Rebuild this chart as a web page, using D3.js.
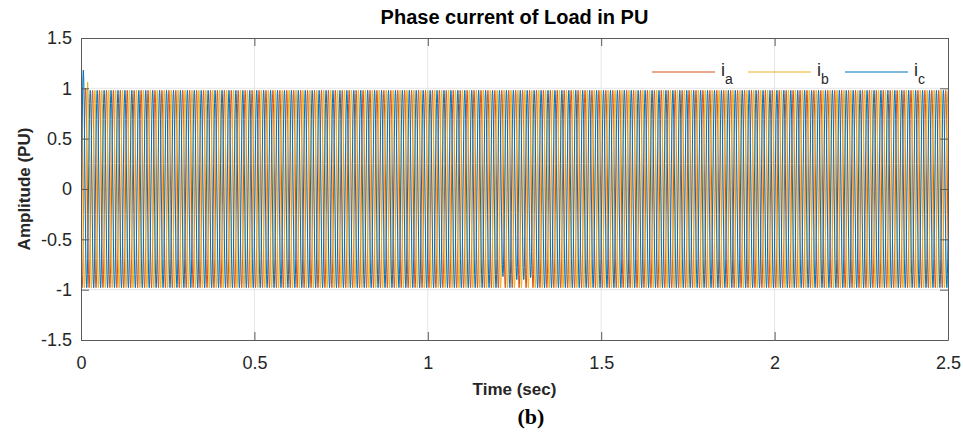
<!DOCTYPE html>
<html>
<head>
<meta charset="utf-8">
<script src="https://cdn.jsdelivr.net/npm/d3@7"></script>
<style>
  body { margin: 0; background: #fff; }
  text { font-family: Arial, "Liberation Sans", Helvetica, sans-serif; }
</style>
</head>
<body>
<div id="chart"></div>
<script>
var svgWidth = 963;
var svgHeight = 432;
var margin = { top: 38, right: 15, bottom: 92, left: 81 };
var width = svgWidth - margin.left - margin.right;
var height = svgHeight - margin.top - margin.bottom;

// tick labels
var timeTicks = [0, 0.5, 1, 1.5, 2, 2.5];
var ampTicks = [-1.5, -1, -0.5, 0, 0.5, 1, 1.5];

// series
var seriesNames = ["a", "b", "c"];
var seriesColors = ["#D95319", "#EDB120", "#0072BD"];

// one 20 ms cycle of the steady waveform, 24 samples, normalised to its peak
var cycleShape = [1, 0.966, 0.866, 0.707, 0.5, 0.259, 0, -0.259, -0.5, -0.707, -0.866, -0.966,
                  -1, -0.966, -0.866, -0.707, -0.5, -0.259, 0, 0.259, 0.5, 0.707, 0.866, 0.966];
var cycleLength = 0.02;
var cycleCount = 125;
var phaseShift = [8, 0, 16];       // samples into cycleShape at t = 0 (ia, ib, ic)
var steadyPeak = 0.98;
var firstCyclePeak = [1.0, 1.1, 1.18]; // start-up overshoot (positive half)
// shallower troughs of ic around 1.2 s
var dipCycles = [60, 62, 63, 64];
var dipTrough = [0.87, 0.9, 0.9, 0.88];

function peakFor(k, c, v) {
  if (c === 0 && v > 0) return firstCyclePeak[k];
  var d = dipCycles.indexOf(c);
  if (k === 2 && d >= 0 && v < 0) return dipTrough[d];
  return steadyPeak;
}

var n = cycleShape.length;
var series = seriesNames.map(function (name, k) {
  var pts = [];
  for (var i = 0; i <= cycleCount * n; i++) {
    var c = Math.floor(i / n);
    var s = cycleShape[(i + phaseShift[k]) % n];
    pts.push({ t: i * cycleLength / n, v: s * peakFor(k, c, s) });
  }
  return { name: name, color: seriesColors[k], values: pts };
});

var svg = d3.select("#chart")
  .append("svg")
  .attr("width", svgWidth)
  .attr("height", svgHeight);

var chartGroup = svg.append("g")
  .attr("transform", `translate(${margin.left}, ${margin.top})`);

var x = d3.scaleLinear().domain([0, 2.5]).range([0, width]);
var y = d3.scaleLinear().domain([-1.5, 1.5]).range([height, 0]);

// grid
chartGroup.append("g").selectAll("line")
  .data(timeTicks.slice(1, -1))
  .enter().append("line")
  .attr("x1", d => x(d)).attr("x2", d => x(d))
  .attr("y1", 0).attr("y2", height)
  .attr("stroke", "#e6e6e6");
chartGroup.append("g").selectAll("line")
  .data(ampTicks.slice(1, -1))
  .enter().append("line")
  .attr("y1", d => y(d)).attr("y2", d => y(d))
  .attr("x1", 0).attr("x2", width)
  .attr("stroke", "#e6e6e6");

chartGroup.append("clipPath").attr("id", "clip")
  .append("rect").attr("width", width).attr("height", height);

var line = d3.line().x(d => x(d.t)).y(d => y(d.v));

chartGroup.append("g").attr("clip-path", "url(#clip)")
  .selectAll("path")
  .data(series)
  .enter().append("path")
  .attr("d", d => line(d.values))
  .attr("fill", "none")
  .attr("stroke", d => d.color)
  .attr("stroke-width", 1);

// axes (box with inward ticks)
var tick = 8;
var fmt = d => String(d);
chartGroup.append("g")
  .attr("transform", `translate(0, ${height})`)
  .call(d3.axisBottom(x).tickValues(timeTicks).tickFormat(fmt).tickSizeInner(-tick).tickSizeOuter(0).tickPadding(16));
chartGroup.append("g")
  .call(d3.axisLeft(y).tickValues(ampTicks).tickFormat(fmt).tickSizeInner(-tick).tickSizeOuter(0).tickPadding(9));
chartGroup.append("g")
  .call(d3.axisTop(x).tickValues(timeTicks).tickSizeInner(-tick).tickSizeOuter(0).tickFormat(""));
chartGroup.append("g")
  .attr("transform", `translate(${width}, 0)`)
  .call(d3.axisRight(y).tickValues(ampTicks).tickSizeInner(-tick).tickSizeOuter(0).tickFormat(""));

chartGroup.selectAll(".domain, .tick line").attr("stroke", "#5a5a5a");
chartGroup.selectAll(".tick text")
  .attr("font-size", "18px")
  .attr("fill", "#262626")
  .style("font-family", "Arial, 'Liberation Sans', sans-serif");

// legend
var legendX = [571, 667, 764];
var legend = chartGroup.append("g");
series.forEach(function (s, k) {
  var g = legend.append("g").attr("transform", `translate(${legendX[k]}, 34)`);
  g.append("line").attr("x1", 0).attr("x2", 63).attr("stroke", s.color).attr("stroke-width", 1.2);
  var t = g.append("text").attr("x", 69).attr("y", 4).attr("font-size", "18px").attr("fill", "#262626");
  t.append("tspan").text("i");
  t.append("tspan").attr("dy", 8).attr("font-size", "14px").text(s.name);
});

// titles
svg.append("text")
  .attr("x", margin.left + width / 2).attr("y", 24)
  .attr("text-anchor", "middle").attr("font-size", "20px").attr("font-weight", "bold")
  .attr("fill", "#000")
  .text("Phase current of Load in PU");

svg.append("text")
  .attr("x", margin.left + width / 2).attr("y", 395)
  .attr("text-anchor", "middle").attr("font-size", "17px").attr("font-weight", "bold")
  .attr("fill", "#262626")
  .text("Time (sec)");

svg.append("text")
  .attr("transform", `translate(30, ${margin.top + height / 2}) rotate(-90)`)
  .attr("text-anchor", "middle").attr("font-size", "17px").attr("font-weight", "bold")
  .attr("fill", "#262626")
  .text("Amplitude (PU)");

svg.append("text")
  .attr("x", 531).attr("y", 424)
  .attr("text-anchor", "middle").attr("font-size", "22px").attr("font-weight", "bold")
  .style("font-family", "'Liberation Serif', 'Times New Roman', serif")
  .attr("fill", "#000")
  .text("(b)");
</script>
</body>
</html>
